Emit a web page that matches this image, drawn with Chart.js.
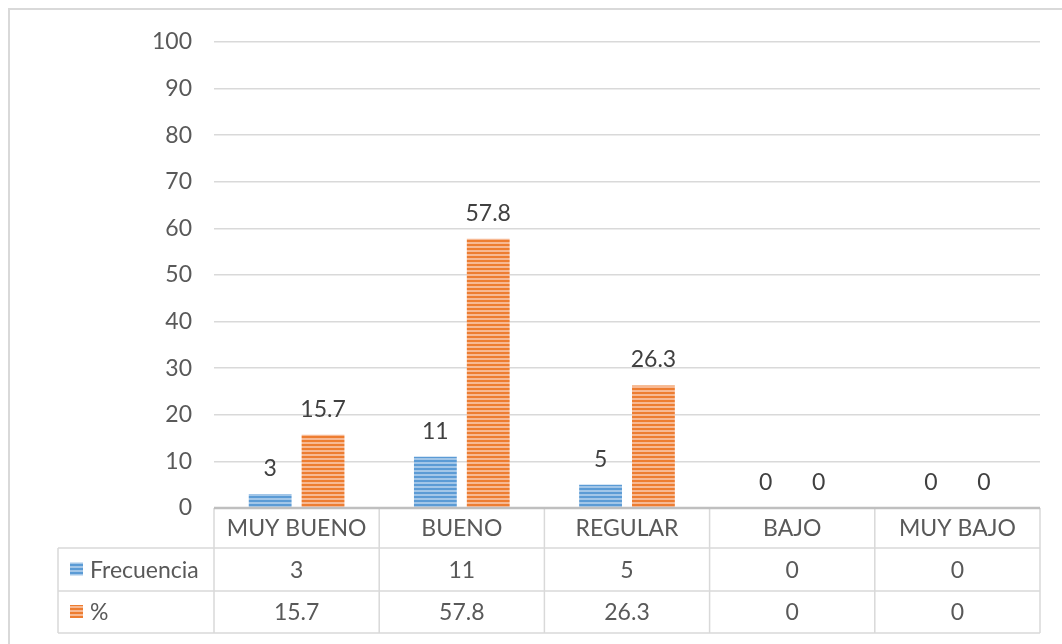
<!DOCTYPE html>
<html>
<head>
<meta charset="utf-8">
<script src="https://cdn.jsdelivr.net/npm/chart.js@4"></script>
<style>
  html, body { margin: 0; padding: 0; background: #fff; }
  #wrap { width: 1062px; height: 644px; position: relative; }
</style>
</head>
<body>
<div id="wrap"><canvas id="chart" width="1062" height="644"></canvas></div>
<script>
// datos
const categorias = ['MUY BUENO', 'BUENO', 'REGULAR', 'BAJO', 'MUY BAJO'];
const frecuencia = [3, 11, 5, 0, 0];
const porcentaje = [15.7, 57.8, 26.3, 0, 0];
const series = ['Frecuencia', '%'];
const yTicks = [0, 10, 20, 30, 40, 50, 60, 70, 80, 90, 100];

const FONT = 'Lato, "Liberation Sans", sans-serif';
const GRIS = '#595959';
const LINEA = '#d9d9d9';

// rayas horizontales como en Excel
function rayas(base, claro) {
    let c = document.createElement('canvas');
    c.width = 8;
    c.height = 4;
    let g = c.getContext('2d');
    g.fillStyle = base;
    g.fillRect(0, 0, 8, 4);
    g.fillStyle = claro;
    g.fillRect(0, 2, 8, 2);
    return g.createPattern(c, 'repeat');
}
const azul = rayas('#5B9BD5', '#A2C6E8');
const naranja = rayas('#ED7D31', '#F7B993');

// etiquetas encima de las barras
const etiquetas = {
    id: 'etiquetas',
    afterDatasetsDraw(chart) {
        let ctx = chart.ctx;
        ctx.save();
        ctx.font = '23px ' + FONT;
        ctx.fillStyle = '#404040';
        ctx.textAlign = 'center';
        ctx.textBaseline = 'bottom';
        chart.data.datasets.forEach((ds, i) => {
            chart.getDatasetMeta(i).data.forEach((bar, j) => {
                ctx.fillText(String(ds.data[j]), bar.x, bar.y - 14);
            });
        });
        ctx.restore();
    }
};

// tabla de datos debajo del eje
const tabla = {
    id: 'tabla',
    afterDraw(chart) {
        let ctx = chart.ctx;
        let a = chart.chartArea;
        let x = chart.scales.x;
        let w = x.width / categorias.length;
        let rows = [a.bottom, a.bottom + 40, a.bottom + 83, a.bottom + 125];
        let left = 58;
        ctx.save();

        // marco exterior
        ctx.strokeStyle = LINEA;
        ctx.lineWidth = 2;
        ctx.strokeRect(9, 9, 1062, 700);

        ctx.lineWidth = 1.5;
        ctx.beginPath();
        for (let r = 1; r < rows.length; r++) {
            ctx.moveTo(left, rows[r]);
            ctx.lineTo(a.right, rows[r]);
        }
        ctx.moveTo(left, rows[1]);
        ctx.lineTo(left, rows[3]);
        for (let i = 0; i <= categorias.length; i++) {
            let px = a.left + i * w;
            ctx.moveTo(px, rows[0]);
            ctx.lineTo(px, rows[3]);
        }
        ctx.stroke();

        // linea del eje
        ctx.strokeStyle = '#bfbfbf';
        ctx.lineWidth = 2.5;
        ctx.beginPath();
        ctx.moveTo(a.left, rows[0]);
        ctx.lineTo(a.right, rows[0]);
        ctx.stroke();

        ctx.font = '23px ' + FONT;
        ctx.fillStyle = GRIS;
        ctx.textAlign = 'center';
        ctx.textBaseline = 'middle';
        categorias.forEach((c, i) => {
            let cx = x.getPixelForValue(i);
            ctx.fillText(c, cx, (rows[0] + rows[1]) / 2 + 1);
            ctx.fillText(String(frecuencia[i]), cx, (rows[1] + rows[2]) / 2 + 1);
            ctx.fillText(String(porcentaje[i]), cx, (rows[2] + rows[3]) / 2 + 1);
        });

        // leyenda en la tabla
        let fills = [azul, naranja];
        ctx.textAlign = 'left';
        series.forEach((s, i) => {
            let cy = (rows[i + 1] + rows[i + 2]) / 2;
            ctx.fillStyle = fills[i];
            ctx.fillRect(70, cy - 7, 13, 13);
            ctx.fillStyle = GRIS;
            ctx.fillText(s, 90, cy + 1);
        });
        ctx.restore();
    }
};

new Chart(document.getElementById('chart'), {
    type: 'bar',
    data: {
        labels: categorias,
        datasets: [
            { label: series[0], data: frecuencia, backgroundColor: azul },
            { label: series[1], data: porcentaje, backgroundColor: naranja }
        ]
    },
    options: {
        responsive: false,
        animation: false,
        events: [],
        layout: { padding: { top: 42, right: 22, left: 0, bottom: 0 } },
        categoryPercentage: 0.64,
        barPercentage: 0.81,
        plugins: { legend: { display: false }, tooltip: { enabled: false } },
        scales: {
            x: {
                grid: { display: false },
                border: { display: false },
                ticks: { display: false },
                afterFit: s => { s.height = 136; }
            },
            y: {
                min: 0,
                max: 100,
                afterBuildTicks: s => { s.ticks = yTicks.map(v => ({ value: v })); },
                afterFit: s => { s.width = 214; },
                grid: { color: LINEA, lineWidth: 1.5, drawTicks: false },
                border: { display: false },
                ticks: {
                    padding: 22,
                    color: GRIS,
                    font: { family: FONT, size: 23 }
                }
            }
        }
    },
    plugins: [etiquetas, tabla]
});
</script>
</body>
</html>
